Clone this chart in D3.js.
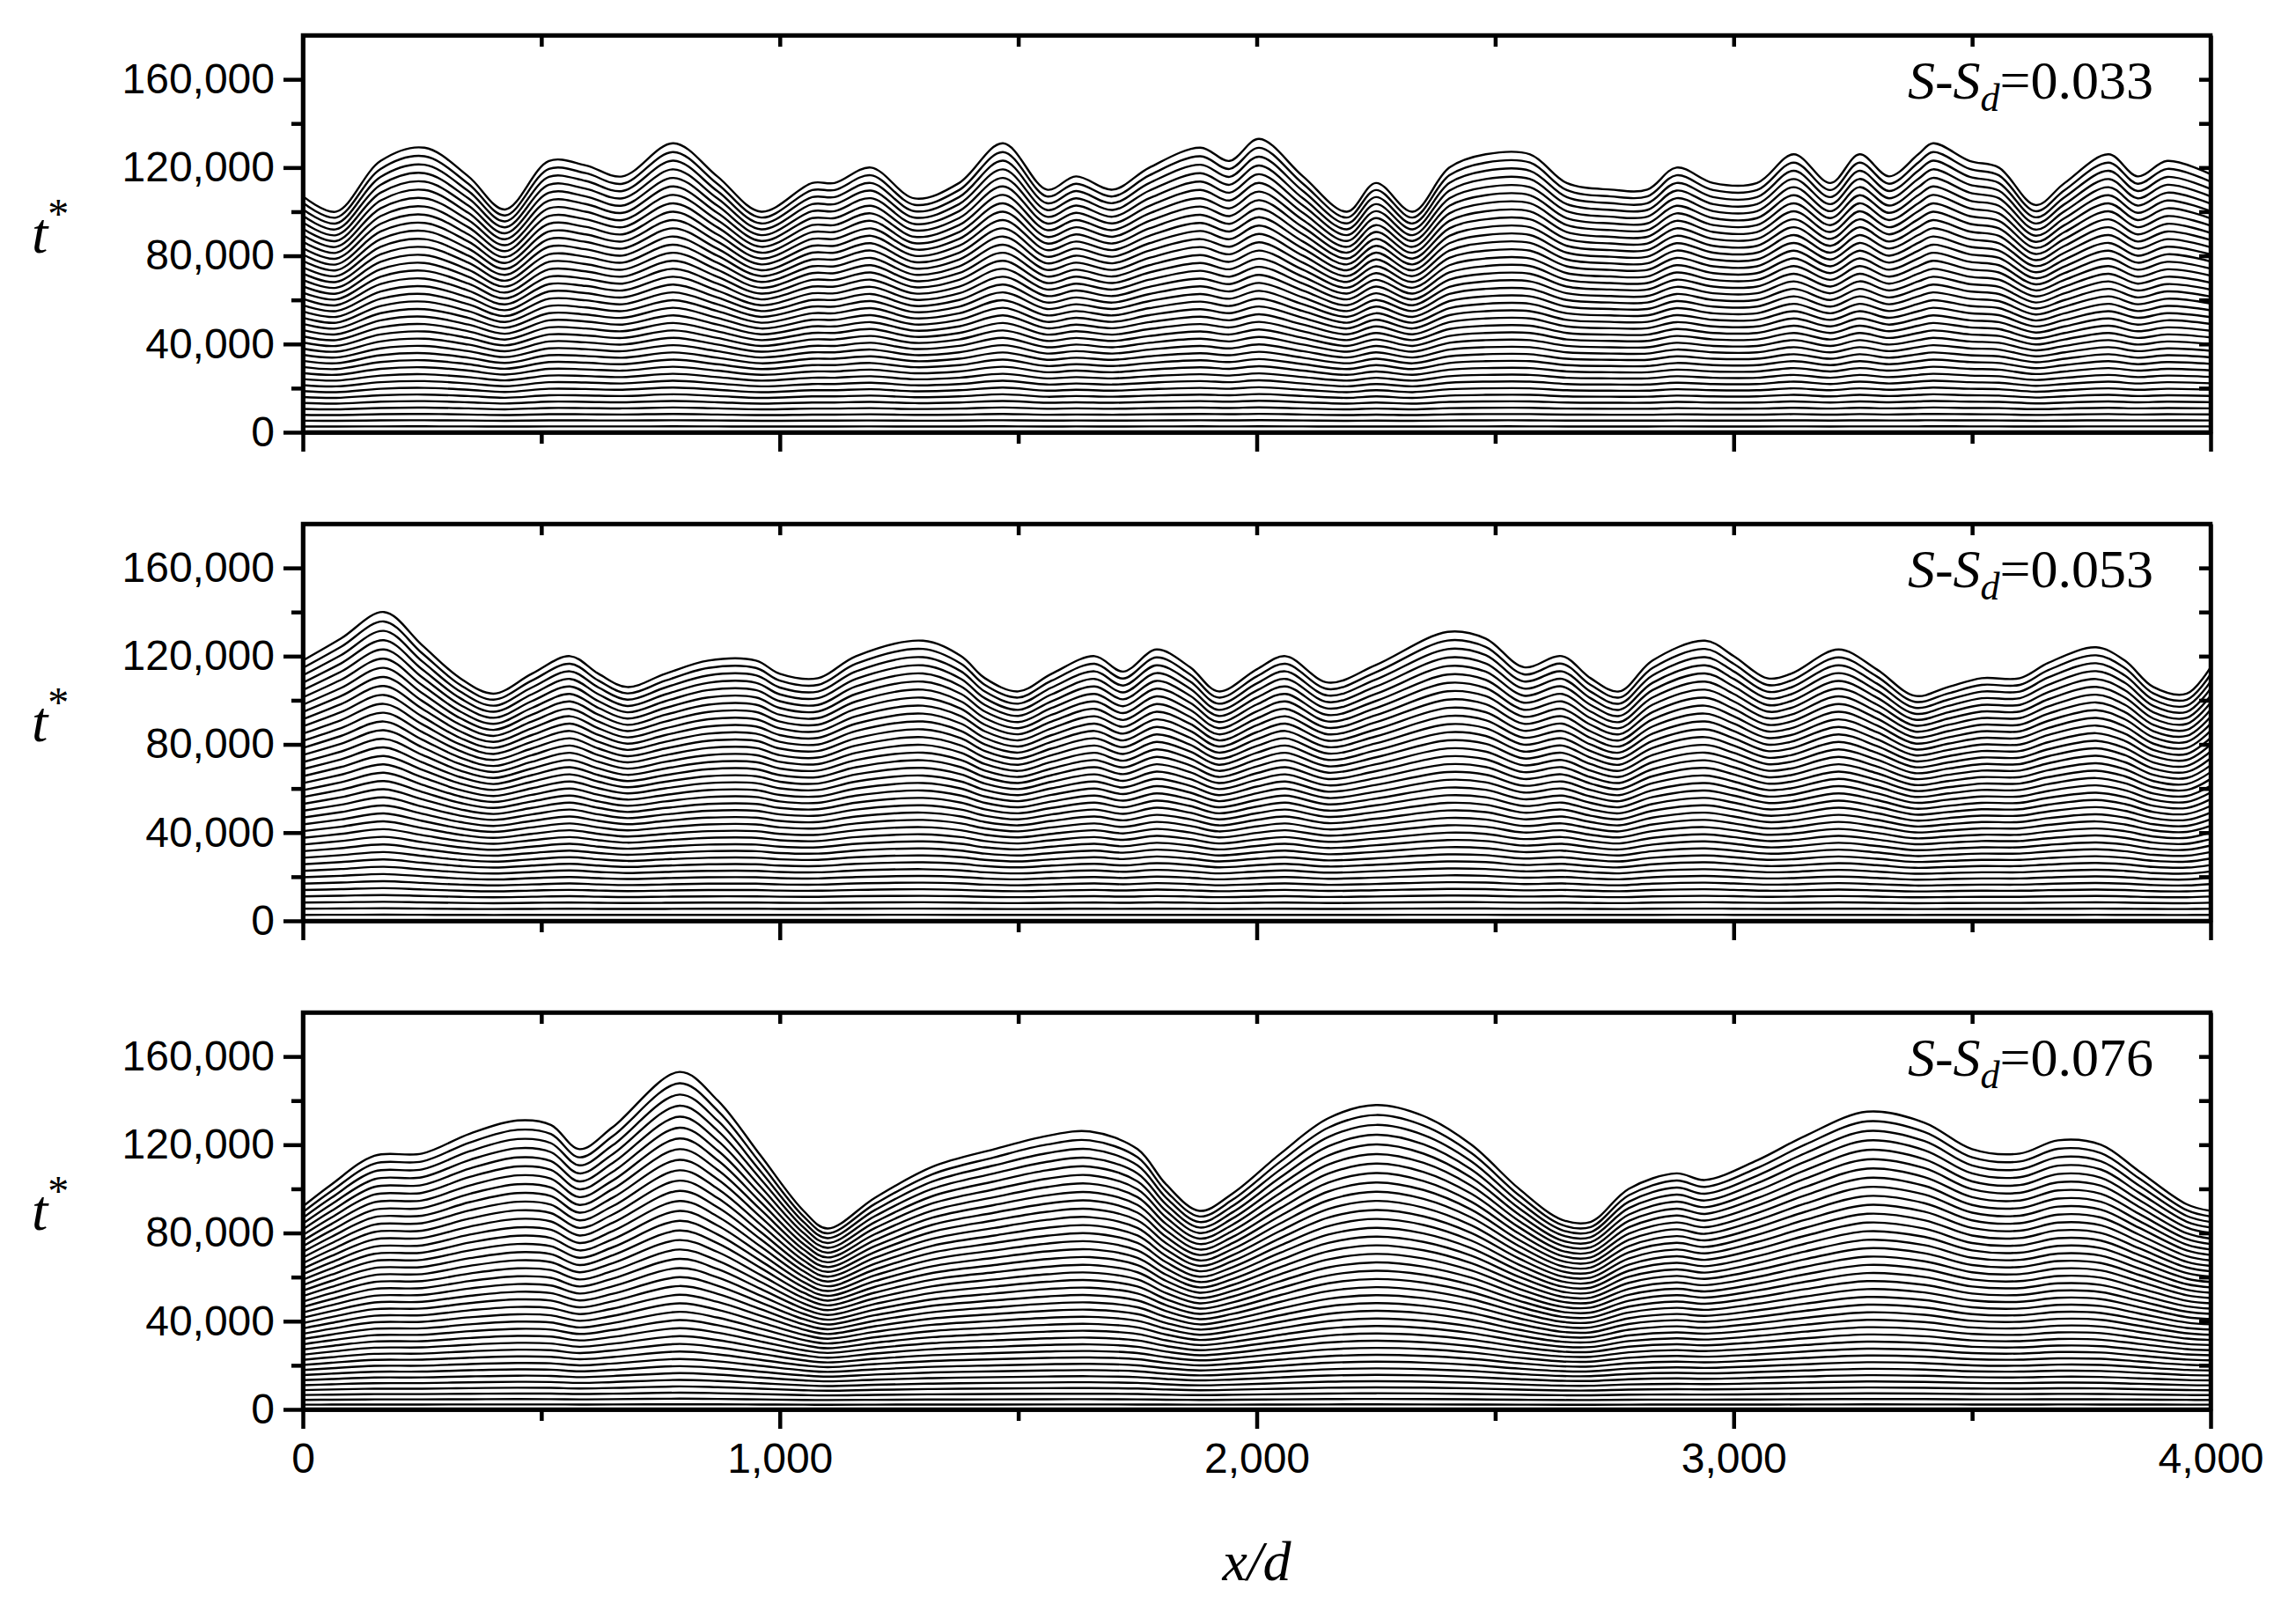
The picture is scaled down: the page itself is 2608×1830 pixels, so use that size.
<!DOCTYPE html>
<html><head><meta charset="utf-8">
<script src="https://cdn.jsdelivr.net/npm/d3@7"></script>
<style>body{margin:0;background:#fff}text{font-family:Arial,"Liberation Sans",sans-serif}</style>
</head><body>
<script>
// top profile of each panel: x/d and t* (thousands)
var x1 = [0,70,163,255,347,424,516,593,670,777,869,961,1068,1115,1191,1283,1376,1468,1560,1621,1698,1775,1882,1943,2005,2097,2189,2250,2327,2404,2480,2573,2650,2742,2819,2880,2957,3049,3126,3203,3264,3326,3387,3418,3495,3556,3633,3694,3786,3847,3909,4000];
var t1 = [107,100,123,129,116,101,123,121,116,131,116,100,113,113,120,106,113,131,110,116,110,120,129,123,133,116,100,113,100,120,126,126,113,110,110,120,113,113,126,113,126,116,126,131,123,120,103,113,126,116,123,117];
var x2 = [0,80,170,250,330,400,480,560,620,680,760,850,950,1000,1080,1160,1300,1380,1430,1500,1570,1660,1720,1790,1860,1920,2000,2060,2150,2250,2400,2480,2560,2640,2700,2760,2830,2940,3000,3070,3120,3220,3300,3380,3450,3520,3600,3660,3760,3820,3880,3950,4000];
var t2 = [118,128,140,125,110,103,112,120,112,106,112,118,118,112,110,120,127,120,110,104,112,120,113,123,115,104,114,120,108,116,131,128,115,120,110,104,118,127,120,110,112,123,114,102,106,110,110,117,124,118,106,103,115];
var x3 = [0,60,150,250,350,450,520,580,650,790,870,960,1050,1100,1200,1320,1450,1560,1650,1750,1810,1880,1950,2050,2150,2250,2350,2450,2550,2640,2700,2780,2880,2940,3050,3150,3280,3400,3500,3600,3680,3770,3850,3950,4000];
var t3 = [92,102,115,116,125,131,129,118,128,153,140,115,90,82,96,110,118,124,126,118,102,90,98,116,132,138,133,120,100,86,85,100,107,104,113,124,135,130,118,116,122,120,108,93,90];
var labels = ["0.033","0.053","0.076"];
var lineCounts = [38,38,38];
var topBase = [98,101,80];   // t* (thousands) of the top profile's lowest point
var xTicks = [0,1000,2000,3000,4000];
var yTicks = [0,40000,80000,120000,160000];

var W = 2608, H = 1830, left = 344, right = 2511;
var panelTop = [40,595,1150], panelH = 451;
var profiles = [[x1,t1],[x2,t2],[x3,t3]];

var svg = d3.select("body").append("svg").attr("width", W).attr("height", H);
var x = d3.scaleLinear().domain([0,4000]).range([left,right]);
var fmt = d3.format(",");

profiles.forEach(function(p, i){
  var y = d3.scaleLinear().domain([0,180000]).range([panelTop[i]+panelH, panelTop[i]]);
  var g = svg.append("g");
  var n = lineCounts[i];
  var lines = [];
  for(var k=1;k<=n;k++){
    var f = k/n, base = topBase[i]*f, amp = Math.pow(f,1.6);
    lines.push(p[0].map(function(xx, j){ return [xx, (base + amp*(p[1][j]-topBase[i]))*1000]; }));
  }
  var line = d3.line().curve(d3.curveCatmullRom).x(function(d){return x(d[0]);}).y(function(d){return y(d[1]);});
  g.selectAll("path.prof").data(lines).enter().append("path").attr("class","prof")
    .attr("d", line).attr("fill","none").attr("stroke","#000").attr("stroke-width",2.4);

  var ax = function(a){ a.selectAll("path,line").attr("stroke","#000").attr("stroke-width",4.5); a.selectAll("text").attr("font-size",48).attr("fill","#000"); };
  g.append("g").attr("transform","translate(0,"+(panelTop[i]+panelH)+")")
    .call(d3.axisBottom(x).tickValues(xTicks).tickSize(22).tickSizeOuter(0).tickPadding(16).tickFormat(i==2?fmt:function(){return "";})).call(ax);
  g.append("g").attr("transform","translate(0,"+(panelTop[i]+panelH)+")")
    .call(d3.axisBottom(x).tickValues([500,1500,2500,3500]).tickSize(13).tickSizeOuter(0).tickFormat("")).call(ax);
  g.append("g").attr("transform","translate(0,"+panelTop[i]+")")
    .call(d3.axisBottom(x).tickValues(d3.range(500,4000,500)).tickSize(13).tickSizeOuter(0).tickFormat("")).call(ax);
  g.append("g").attr("transform","translate("+left+",0)")
    .call(d3.axisLeft(y).tickValues(yTicks).tickSize(22).tickSizeOuter(0).tickPadding(10).tickFormat(fmt)).call(ax);
  g.append("g").attr("transform","translate("+left+",0)")
    .call(d3.axisLeft(y).tickValues([20000,60000,100000,140000]).tickSize(13).tickSizeOuter(0).tickFormat("")).call(ax);
  g.append("g").attr("transform","translate("+right+",0)")
    .call(d3.axisLeft(y).tickValues(d3.range(20000,180000,20000)).tickSize(13).tickSizeOuter(0).tickFormat("")).call(ax);
  g.append("rect").attr("x",left).attr("y",panelTop[i]).attr("width",right-left).attr("height",panelH)
    .attr("fill","none").attr("stroke","#000").attr("stroke-width",4.5);

  var lab = g.append("text").attr("x",2446).attr("y",panelTop[i]+72).attr("text-anchor","end")
    .attr("font-size",62).style("font-family","'Liberation Serif',serif");
  lab.append("tspan").attr("font-style","italic").text("S");
  lab.append("tspan").text("-");
  lab.append("tspan").attr("font-style","italic").text("S");
  lab.append("tspan").attr("font-style","italic").attr("font-size",44).attr("dy",14).text("d");
  lab.append("tspan").attr("dy",-14).text("=" + labels[i]);

  var tl = g.append("text").attr("x",36).attr("y",y(80000)-4).attr("font-size",66).style("font-family","'Liberation Serif',serif");
  tl.append("tspan").attr("font-style","italic").text("t");
  tl.append("tspan").attr("font-size",48).attr("dy",-28).text("*");
});

svg.append("text").attr("x",(left+right)/2).attr("y",1795).attr("text-anchor","middle")
  .attr("font-size",64).attr("font-style","italic").style("font-family","'Liberation Serif',serif").text("x/d");
</script>
</body></html>
